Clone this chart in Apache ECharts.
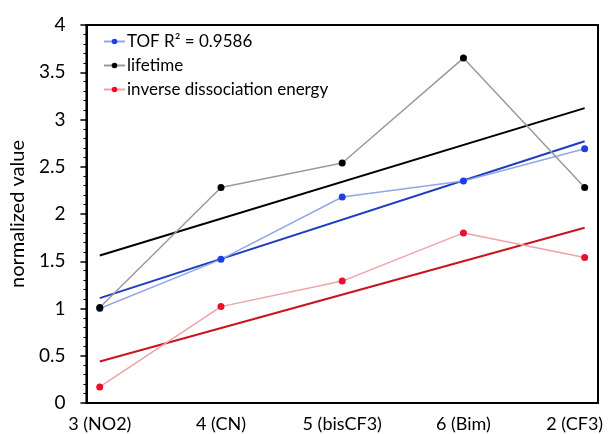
<!DOCTYPE html>
<html lang="en">
<head>
    <meta charset="UTF-8">
    <title>normalized value</title>
    <style>
        html, body { margin: 0; padding: 0; background: #fff; }
    </style>
</head>
<body>
<div class="main" style="width: 615px;height: 434px;"></div>
<script src="https://cdn.jsdelivr.net/npm/echarts@6/dist/echarts.min.js"></script>
<script>
    // categories on the x axis
    var categories = ['3 (NO2)', '4 (CN)', '5 (bisCF3)', '6 (Bim)', '2 (CF3)'];

    // series values
    var tofValues = [1.0, 1.52, 2.18, 2.35, 2.69];
    var lifetimeValues = [1.01, 2.28, 2.54, 3.65, 2.28];
    var dissocValues = [0.17, 1.02, 1.29, 1.80, 1.54];

    // linear trendlines: value at first and last category
    var tofTrend = [1.11, 2.77];
    var lifetimeTrend = [1.56, 3.12];
    var dissocTrend = [0.44, 1.855];

    var yTicks = [0, 0.5, 1, 1.5, 2, 2.5, 3, 3.5, 4];

    var font = 'Lato, "Noto Sans", sans-serif';

    var main = document.querySelector('.main');
    var chart = echarts.init(main);

    function pairs(values) {
        return values.map(function (v, i) { return [i, v]; });
    }
    function trendPairs(t) {
        return [[0, t[0]], [categories.length - 1, t[1]]];
    }

    function dataSeries(name, values, dot, line) {
        return {
            name: name,
            type: 'line',
            data: pairs(values),
            symbol: 'circle',
            symbolSize: 7,
            itemStyle: { color: dot },
            lineStyle: { color: line, width: 1.5 },
            z: 3
        };
    }
    function trendSeries(t, color) {
        return {
            type: 'line',
            data: trendPairs(t),
            symbol: 'none',
            silent: true,
            lineStyle: { color: color, width: 2 },
            z: 2
        };
    }

    var option = {
        animation: false,
        textStyle: { fontFamily: font },
        grid: {
            left: 78, right: 17, top: 25, bottom: 31,
            show: true,
            borderColor: '#000',
            borderWidth: 2
        },
        legend: {
            orient: 'vertical',
            left: 98,
            top: 28,
            itemWidth: 21,
            itemHeight: 7,
            itemGap: 7,
            textStyle: { fontFamily: font, fontSize: 17, color: '#000', padding: [0, 0, 0, -3] },
            data: ['TOF R\u00b2 = 0.9586', 'lifetime', 'inverse dissociation energy']
        },
        xAxis: {
            type: 'value',
            min: -0.11,
            max: 4.11,
            axisLine: { show: true, onZero: false, lineStyle: { color: '#000', width: 2 } },
            axisTick: { show: false },
            splitLine: { show: false },
            axisLabel: {
                customValues: [0, 1, 2, 3, 4],
                margin: 12,
                fontSize: 18,
                color: '#000',
                fontFamily: font,
                formatter: function (v) {
                    var i = Math.round(v);
                    // last label is pushed left to stay inside the picture
                    return i === categories.length - 1 ? '{last|' + categories[i] + '}' : categories[i];
                },
                rich: {
                    last: { fontSize: 18, fontFamily: font, color: '#000', padding: [0, 20, 0, 0] }
                }
            }
        },
        yAxis: {
            type: 'value',
            min: yTicks[0],
            max: yTicks[yTicks.length - 1],
            interval: 0.5,
            name: 'normalized value',
            nameLocation: 'middle',
            nameGap: 58,
            nameTextStyle: { fontSize: 20, color: '#000', fontFamily: font },
            axisLine: { show: true, onZero: false, lineStyle: { color: '#000', width: 2 } },
            axisTick: { show: true, length: 6, lineStyle: { color: '#000', width: 1.5 } },
            minorTick: { show: true, splitNumber: 5, length: 3, lineStyle: { color: '#000', width: 1 } },
            splitLine: { show: false },
            axisLabel: { margin: 21, fontSize: 19, color: '#000', fontFamily: font }
        },
        series: [
            dataSeries('TOF R\u00b2 = 0.9586', tofValues, '#1f3fe6', '#93a6e6'),
            dataSeries('lifetime', lifetimeValues, '#000000', '#9a9a9a'),
            dataSeries('inverse dissociation energy', dissocValues, '#e8102a', '#eea3aa'),
            trendSeries(tofTrend, '#1e3cc0'),
            trendSeries(lifetimeTrend, '#000000'),
            trendSeries(dissocTrend, '#c8141f')
        ]
    };
    chart.setOption(option);
</script>
</body>
</html>
